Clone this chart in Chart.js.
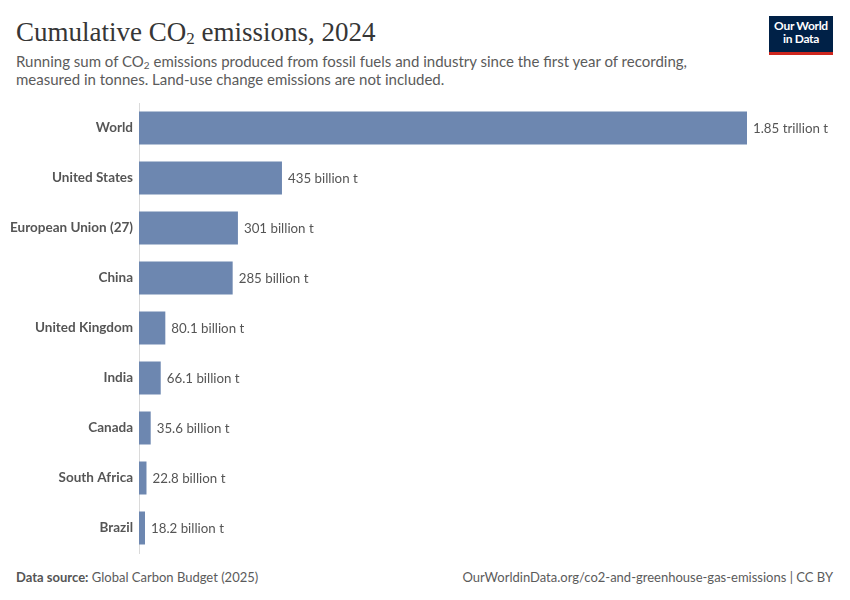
<!DOCTYPE html>
<html>
<head>
<meta charset="utf-8">
<script src="https://cdn.jsdelivr.net/npm/chart.js@4"></script>
<style>
  body { margin: 0; background: #fff; font-family: Lato, sans-serif; }
  #wrap { position: relative; width: 850px; height: 600px; overflow: hidden; }
  .title { position: absolute; left: 16px; top: 17px; font-family: "Liberation Serif", "DejaVu Serif", serif; font-size: 27px; color: #363636; }
  .title sub { font-size: 17px; vertical-align: -3px; line-height: 0; }
  .sub { position: absolute; left: 16px; top: 52px; width: 720px; font-size: 15px; line-height: 18px; color: #5b5b5b; }
  .sub sub { font-size: 10px; vertical-align: -2px; line-height: 0; }
  .logo { position: absolute; left: 769px; top: 16px; width: 64px; height: 33px; background: #002147; border-bottom: 3px solid #ce261e; color: #fff; font-size: 12px; font-weight: bold; text-align: center; line-height: 13px; padding-top: 3px; box-sizing: content-box; letter-spacing: -0.3px; }
  .foot { position: absolute; top: 569px; font-size: 13px; color: #5b5b5b; }
  .foot b { font-weight: bold; color: #555; }
  #c { position: absolute; left: 0; top: 95px; }
</style>
</head>
<body>
<div id="wrap">
  <div class="title">Cumulative CO<sub>2</sub> emissions, 2024</div>
  <div class="sub">Running sum of CO<sub>2</sub> emissions produced from fossil fuels and industry since the first year of recording, measured in tonnes. Land-use change emissions are not included.</div>
  <div class="logo">Our World<br>in Data</div>
  <canvas id="c" width="850" height="465"></canvas>
  <div class="foot" style="left:16px;"><b>Data source:</b> Global Carbon Budget (2025)</div>
  <div class="foot" style="right:17px;">OurWorldinData.org/co2-and-greenhouse-gas-emissions | CC BY</div>
</div>
<script>
// cumulative emissions in billion tonnes
var countries = ['World', 'United States', 'European Union (27)', 'China', 'United Kingdom', 'India', 'Canada', 'South Africa', 'Brazil'];
var emissions = [1850, 435, 301, 285, 80.1, 66.1, 35.6, 22.8, 18.2];
var valueLabels = ['1.85 trillion t', '435 billion t', '301 billion t', '285 billion t', '80.1 billion t', '66.1 billion t', '35.6 billion t', '22.8 billion t', '18.2 billion t'];

// labels at the end of each bar
var barLabels = {
    id: 'barLabels',
    afterDatasetsDraw: function (chart) {
        var ctx = chart.ctx;
        var meta = chart.getDatasetMeta(0);
        ctx.save();
        ctx.font = '13.3px Lato';
        ctx.fillStyle = '#555';
        ctx.textBaseline = 'middle';
        meta.data.forEach(function (bar, i) {
            ctx.fillText(valueLabels[i], bar.x + 6, bar.y + 1);
        });
        ctx.restore();
    }
};

new Chart(document.getElementById('c'), {
    type: 'bar',
    data: {
        labels: countries,
        datasets: [{
            data: emissions,
            backgroundColor: '#6d87b0',
            barPercentage: 0.66,
            categoryPercentage: 1
        }]
    },
    options: {
        indexAxis: 'y',
        responsive: false,
        animation: false,
        layout: { padding: { top: 8, bottom: 7, right: 103, left: 0 } },
        plugins: { legend: { display: false }, tooltip: { enabled: false } },
        scales: {
            x: { display: false, min: 0, max: 1850 },
            y: {
                afterFit: function (scale) {
                    scale.width = 139;
                    scale.paddingTop = 0;
                    scale.paddingBottom = 0;
                },
                grid: { display: false, drawTicks: false },
                border: { display: true, color: '#dadada', width: 1 },
                ticks: { padding: 6, color: '#555', font: { family: 'Lato', size: 13.5, weight: 'bold' } }
            }
        }
    },
    plugins: [barLabels]
});
</script>
</body>
</html>
